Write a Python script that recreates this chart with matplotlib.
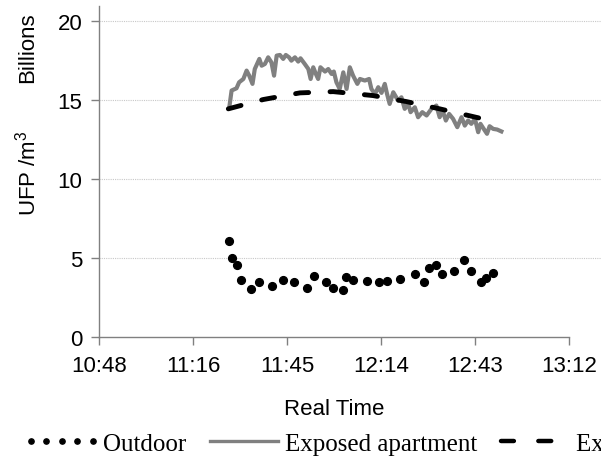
import matplotlib
matplotlib.use('Agg')
import matplotlib.pyplot as plt
from matplotlib.lines import Line2D
from matplotlib.legend_handler import HandlerLine2D

plt.rcParams['font.family'] = 'Liberation Sans'
plt.rcParams['mathtext.fontset'] = 'custom'
plt.rcParams['mathtext.rm'] = 'Liberation Sans'
plt.rcParams['mathtext.it'] = 'Liberation Sans'

# time axis: minutes after 10:48
tick_min = [0, 28.8, 57.6, 86.4, 115.2, 144]
tick_lbl = ["10:48", "11:16", "11:45", "12:14", "12:43", "13:12"]

# Outdoor (billions UFP / m3)
out_min = [39.9, 40.6, 42.2, 43.5, 46.4, 49.0, 53.1, 56.2, 59.6, 63.7, 65.8,
           69.4, 71.8, 74.7, 75.6, 77.7, 82.0, 85.6, 88.3, 92.2, 96.7, 99.4,
           101.1, 103.2, 105.1, 108.7, 111.8, 113.9, 116.9, 118.4, 120.6]
out_val = [6.11, 5.05, 4.59, 3.60, 3.05, 3.52, 3.22, 3.60, 3.52, 3.14, 3.87,
           3.52, 3.11, 2.97, 3.79, 3.64, 3.58, 3.52, 3.56, 3.68, 4.00, 3.47,
           4.36, 4.55, 3.98, 4.17, 4.91, 4.17, 3.52, 3.77, 4.10]

# Exposed apartment, measured
exp_min = [39.9, 40.6, 42.1, 42.9, 44.2, 45.2, 46.0, 47.0, 47.7, 49.1, 49.8,
           50.8, 51.8, 52.8, 53.6, 54.4, 55.4, 56.4, 57.2, 58.2, 58.9, 60.0,
           61.0, 61.7, 63.0, 64.1, 64.8, 65.6, 66.4, 67.1, 67.8, 69.2, 70.2,
           71.2, 71.9, 72.7, 73.7, 74.8, 75.8, 76.8, 77.8, 79.1, 79.9, 81.4,
           82.7, 83.4, 84.5, 85.5, 86.5, 87.5, 88.2, 89.0, 90.1, 91.6, 92.6,
           93.6, 94.7, 95.4, 96.7, 97.7, 99.0, 100.3, 101.8, 103.3, 104.3,
           105.2, 106.2, 107.2, 108.4, 109.7, 111.0, 112.0, 113.0, 114.0,
           115.1, 116.1, 116.8, 117.8, 118.8, 119.6, 120.7, 121.9, 123.2]
exp_val = [14.56, 15.62, 15.76, 16.14, 16.35, 16.88, 16.56, 16.04, 16.98, 17.62,
           17.19, 17.30, 17.72, 17.40, 16.56, 17.83, 17.87, 17.62, 17.87, 17.72,
           17.51, 17.72, 17.45, 17.66, 17.30, 16.98, 16.35, 17.09, 16.67, 16.35,
           17.09, 16.82, 16.98, 16.67, 16.82, 16.14, 15.72, 16.77, 15.72, 17.09,
           16.56, 16.04, 16.35, 16.25, 16.35, 15.72, 15.40, 15.83, 15.47, 16.04,
           15.40, 14.77, 15.51, 14.98, 15.19, 14.46, 14.77, 14.25, 14.56, 13.93,
           14.25, 14.04, 14.46, 14.67, 13.93, 14.35, 13.72, 14.14, 13.83, 13.30,
           13.93, 13.40, 13.72, 13.51, 13.83, 12.98, 13.51, 13.19, 12.88, 13.36,
           13.19, 13.15, 13.03]

# Exposed apartment, smooth curve
fit_min = [39.6, 50.3, 61.5, 71.7, 83.9, 94.1, 104.3, 116.6, 120.7]
fit_val = [14.46, 15.05, 15.47, 15.55, 15.30, 14.92, 14.46, 13.87, 13.51]

fig = plt.figure(figsize=(6.01, 4.6), dpi=100)
ax = fig.add_axes([0.1647, 0.2646, 0.8353, 0.7202])

ax.plot(exp_min, exp_val, color='#808080', lw=3.0, solid_joinstyle='round', zorder=3)
ax.plot(fit_min, fit_val, color='black', lw=3.5, dashes=(2.7, 4.4),
        dash_capstyle='round', zorder=4)
ax.plot(out_min, out_val, ls='none', marker='o', ms=5.6, color='black', zorder=5)

ax.set_xlim(0, 153.7)
ax.set_ylim(0, 20.97)
ax.set_xticks(tick_min)
ax.set_xticklabels(tick_lbl)
ax.set_yticks([0, 5, 10, 15, 20])
for v in [5, 10, 15, 20]:
    ax.axhline(v, color='#c8c8c8', lw=0.8, ls=(0, (1, 1)), zorder=1)

for s in ['top', 'right']:
    ax.spines[s].set_visible(False)
ax.spines['bottom'].set_bounds(0, 144)
for s in ['left', 'bottom']:
    ax.spines[s].set_color('#808080')
    ax.spines[s].set_linewidth(1.0)
ax.tick_params(axis='x', length=5.5, width=1, color='#808080', pad=7, labelsize=16)
ax.tick_params(axis='y', length=5.8, width=1, color='#808080', pad=6, labelsize=16)

fig.text(334 / 601, 1 - 410 / 460, "Real Time", ha='center', va='center', fontsize=16)
fig.text(28 / 601, 1 - 48 / 460, "Billions", rotation=90, ha='center', va='center', fontsize=16)
fig.text(28 / 601, 1 - 173 / 460, "UFP /m$^{3}$", rotation=90, ha='center', va='center', fontsize=16)

h_out = Line2D([], [], ls='none', marker='o', ms=3.8, color='black')
h_exp = Line2D([], [], color='#808080', lw=2.4)
h_fit = Line2D([], [], color='black', lw=3.2, dashes=(2.9, 5.5), dash_capstyle='round')
fig.legend([h_out, h_exp, h_fit],
           ["Outdoor", "Exposed apartment", "Exposed apartment (model)"],
           handler_map={h_out: HandlerLine2D(numpoints=5, marker_pad=0.1)},
           loc='center left', bbox_to_anchor=(28 / 601, 1 - 445 / 460),
           ncol=3, frameon=False, borderpad=0, borderaxespad=0,
           handlelength=2.7, handletextpad=0.3, columnspacing=0.95,
           prop={'family': 'Liberation Serif', 'size': 18})

fig.savefig('out.png', dpi=100)
